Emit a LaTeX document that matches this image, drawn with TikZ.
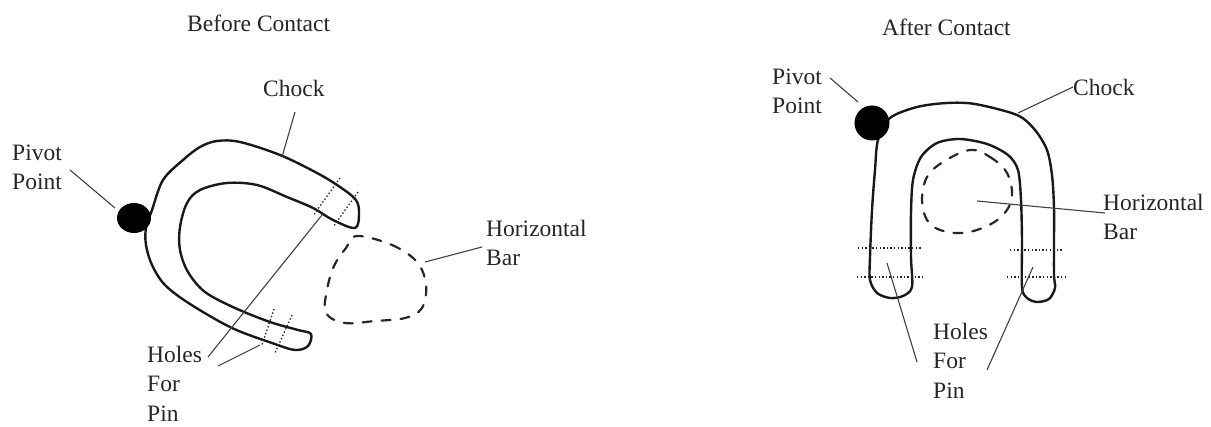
\documentclass[tikz,border=0pt]{standalone}
\usepackage{fontspec}
\setmainfont{Liberation Serif}
\begin{document}
\begin{tikzpicture}[x=1pt,y=-1pt,
  lbl/.style={anchor=north west,inner sep=0pt,align=left,text=black!85,
    font=\fontsize{23.5}{29.5}\selectfont},
  outline/.style={line width=2.4pt,line join=round,line cap=round,black!90},
  leader/.style={line width=1.1pt,black!75},
  hole/.style={line width=1.3pt,black!85,dash pattern=on 1.4pt off 2.2pt},
  bar/.style={line width=2.2pt,black!85,dash pattern=on 9pt off 10pt,line cap=round},
  pivot/.style={fill=black}]
\useasboundingbox (0,0) rectangle (1211,427);

% ---------------- left: chock swung open ----------------
\node[lbl] (titleL) at (187,15) {Before Contact};

\draw[outline] plot[smooth cycle,tension=0.55] coordinates {
  (152,210) (163,180) (183,160) (200,147) (217,141) (240,142) (280,155)
  (317,173) (340,187) (356,200) (359,214) (355,228)
  (333,220) (313,208) (287,197) (257,185) (227,183) (200,190) (187,203)
  (180,227) (180,250) (188,272) (205,292) (235,308) (270,322) (298,330) (311,334)
  (308,346) (295,350) (272,343) (232,328) (190,304) (165,285) (152,265)
  (146,245) (146,228)};
\fill[pivot] (134,218) ellipse [x radius=17pt, y radius=15pt];

% pin holes through the arms
\draw[hole] (340,178) -- (313,216);
\draw[hole] (358,192) -- (333,227);
\draw[hole] (274,309) -- (262,345);
\draw[hole] (292,315) -- (275,353);

% horizontal bar, seen end-on
\draw[bar] plot[smooth cycle,tension=0.6] coordinates {
  (357,236) (392,245) (417,262) (426,285) (422,308) (405,318) (375,321)
  (345,323) (326,313) (327,290) (334,266) (346,248)};

\node[lbl] (pivotL) at (12,144.5) {Pivot\\Point};
\node[lbl] (chockL) at (263,79.5) {Chock};
\node[lbl] (holesL) at (147,345.5) {Holes\\For\\Pin};
\node[lbl] (barL) at (486,219.5) {Horizontal\\Bar};

\coordinate (pivotLa) at (70,170);   \coordinate (pivotLb) at (115,208);
\coordinate (chockLa) at (295,112);  \coordinate (chockLb) at (282,157);
\coordinate (holesLa) at (208,357);  \coordinate (holesLb) at (322,215);
\coordinate (holesLc) at (218,366);  \coordinate (holesLd) at (260,345);
\coordinate (barLa) at (482,247);    \coordinate (barLb) at (425,262);
\draw[leader] (pivotLa) -- (pivotLb);
\draw[leader] (chockLa) -- (chockLb);
\draw[leader] (holesLa) -- (holesLb);
\draw[leader] (holesLc) -- (holesLd);
\draw[leader] (barLa) -- (barLb);

% ---------------- right: chock closed over the bar ----------------
\node[lbl] (titleR) at (882,19) {After Contact};

\draw[outline] plot[smooth cycle,tension=0.5] coordinates {
  (890,118) (917,107) (947,103) (975,104) (1017,115) (1035,130) (1047,150)
  (1052,175) (1054,207) (1054,240) (1054,275) (1055,288) (1049,299) (1037,302)
  (1027,298) (1022,287) (1022,240) (1021,200) (1018,170) (1008,155) (987,144)
  (960,139) (937,143) (921,157) (913,180) (911,213) (911,257) (912,287)
  (903,296) (890,298) (877,293) (870,280) (870,257) (872,210) (875,170) (878,140)};
\fill[pivot] (872,123) circle [radius=17.5pt];

\draw[bar] plot[smooth cycle,tension=0.6] coordinates {
  (970,150) (990,157) (1007,173) (1012,197) (1003,215) (985,227) (962,233)
  (940,230) (927,220) (922,200) (927,177) (943,162)};

\draw[hole] (858,248) -- (922,248);
\draw[hole] (857,277) -- (923,277);
\draw[hole] (1010,250) -- (1063,250);
\draw[hole] (1007,277) -- (1065,277);

\node[lbl] (pivotR) at (772,68.5) {Pivot\\Point};
\node[lbl] (chockR) at (1073,78.5) {Chock};
\node[lbl] (barR) at (1103,193.5) {Horizontal\\Bar};
\node[lbl] (holesR) at (933,322.5) {Holes\\For\\Pin};

\coordinate (pivotRa) at (830,78);   \coordinate (pivotRb) at (858,102);
\coordinate (chockRa) at (1073,87);  \coordinate (chockRb) at (1018,113);
\coordinate (barRa) at (1105,213);   \coordinate (barRb) at (977,201);
\coordinate (holesRa) at (917,362);  \coordinate (holesRb) at (887,263);
\coordinate (holesRc) at (987,370);  \coordinate (holesRd) at (1033,267);
\draw[leader] (pivotRa) -- (pivotRb);
\draw[leader] (chockRa) -- (chockRb);
\draw[leader] (barRa) -- (barRb);
\draw[leader] (holesRa) -- (holesRb);
\draw[leader] (holesRc) -- (holesRd);
\end{tikzpicture}
\end{document}
